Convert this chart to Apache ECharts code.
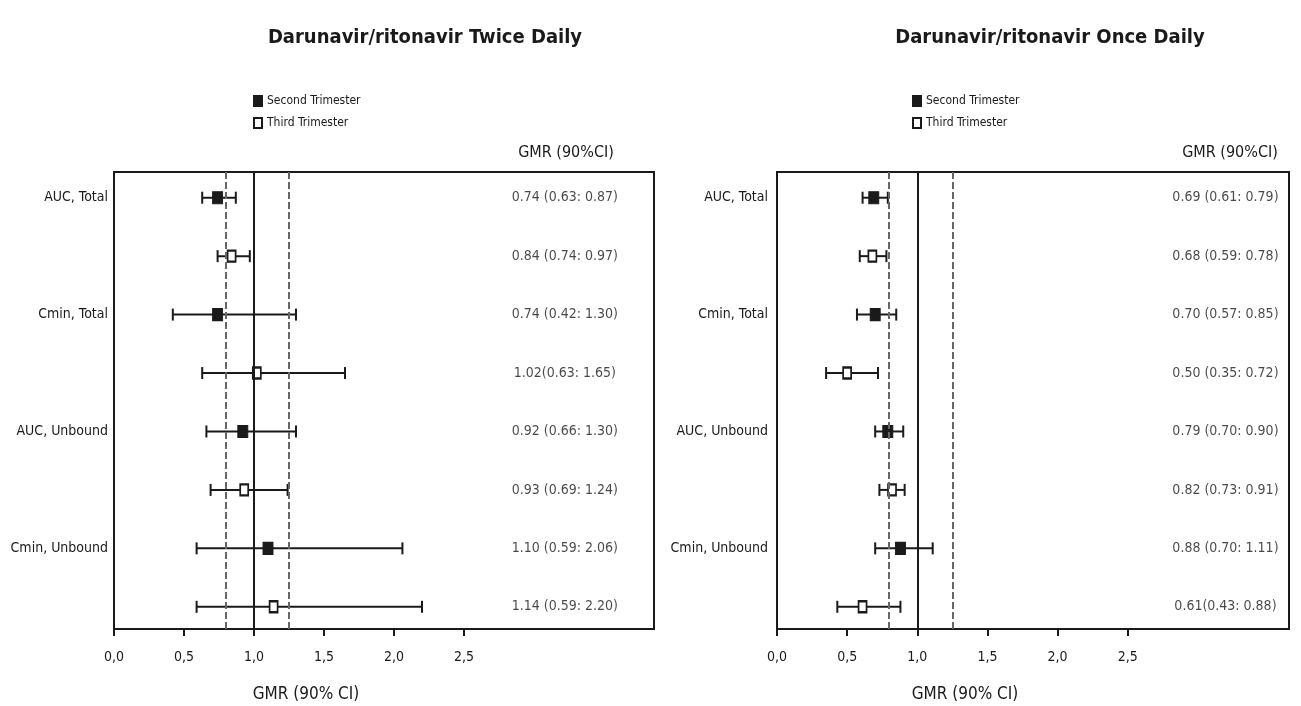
<!DOCTYPE html>
<html>
<head>
<meta charset="utf-8">
<script src="https://cdn.jsdelivr.net/npm/echarts@6/dist/echarts.min.js"></script>
<style>html,body{margin:0;padding:0;background:#fff}#c{width:1301px;height:706px}</style>
</head>
<body>
<div id="c"></div>
<script>
// ---- data ----
const rowLabels = ['AUC, Total', 'Cmin, Total', 'AUC, Unbound', 'Cmin, Unbound'];
const labelRows = [0, 2, 4, 6];
const secondRows = [0, 2, 4, 6];
const thirdRows = [1, 3, 5, 7];

const twiceSecondGMR = [0.74, 0.74, 0.92, 1.10];
const twiceSecondLow = [0.63, 0.42, 0.66, 0.59];
const twiceSecondHigh = [0.87, 1.30, 1.30, 2.06];
const twiceThirdGMR = [0.84, 1.02, 0.93, 1.14];
const twiceThirdLow = [0.74, 0.63, 0.69, 0.59];
const twiceThirdHigh = [0.97, 1.65, 1.24, 2.20];

const onceSecondGMR = [0.69, 0.70, 0.79, 0.88];
const onceSecondLow = [0.61, 0.57, 0.70, 0.70];
const onceSecondHigh = [0.79, 0.85, 0.90, 1.11];
const onceThirdGMR = [0.68, 0.50, 0.82, 0.61];
const onceThirdLow = [0.59, 0.35, 0.73, 0.43];
const onceThirdHigh = [0.78, 0.72, 0.91, 0.88];

const twiceText = ['0.74 (0.63: 0.87)', '0.84 (0.74: 0.97)', '0.74 (0.42: 1.30)', '1.02(0.63: 1.65)',
  '0.92 (0.66: 1.30)', '0.93 (0.69: 1.24)', '1.10 (0.59: 2.06)', '1.14 (0.59: 2.20)'];
const onceText = ['0.69 (0.61: 0.79)', '0.68 (0.59: 0.78)', '0.70 (0.57: 0.85)', '0.50 (0.35: 0.72)',
  '0.79 (0.70: 0.90)', '0.82 (0.73: 0.91)', '0.88 (0.70: 1.11)', '0.61(0.43: 0.88)'];

const xTickValues = [0, 0.5, 1.0, 1.5, 2.0, 2.5];
const xTickLabels = ['0,0', '0,5', '1,0', '1,5', '2,0', '2,5'];
const refLines = [0.8, 1.0, 1.25];

const panelTitles = ['Darunavir/ritonavir Twice Daily', 'Darunavir/ritonavir Once Daily'];
const legendNames = ['Second Trimester', 'Third Trimester'];
const colHeader = 'GMR (90%CI)';
const axisTitle = 'GMR (90% CI)';

// ---- styling ----
const FF = "'Liberation Sans Narrow','DejaVu Sans Condensed','Roboto Condensed',sans-serif";
const INK = '#1a1a1a';

const chart = echarts.init(document.getElementById('c'));

function errData(rows, g, lo, hi) {
  return rows.map((r, i) => [r, g[i], lo[i], hi[i]]);
}
function ptData(rows, g) {
  return rows.map((r, i) => [g[i], r]);
}
function renderErr(params, api) {
  const r = api.value(0);
  const lo = api.coord([api.value(2), r]);
  const hi = api.coord([api.value(3), r]);
  const cap = 6;
  const st = { stroke: INK, lineWidth: 2 };
  return {
    type: 'group',
    children: [
      { type: 'line', shape: { x1: lo[0], y1: lo[1], x2: hi[0], y2: hi[1] }, style: st },
      { type: 'line', shape: { x1: lo[0], y1: lo[1] - cap, x2: lo[0], y2: lo[1] + cap }, style: st },
      { type: 'line', shape: { x1: hi[0], y1: hi[1] - cap, x2: hi[0], y2: hi[1] + cap }, style: st }
    ]
  };
}

const grids = [
  { left: 114, right: 647, top: 172, bottom: 77, show: true, borderColor: INK, borderWidth: 2 },
  { left: 777, right: 12, top: 172, bottom: 77, show: true, borderColor: INK, borderWidth: 2 }
];
const xMax = [3.857, 3.65];
const textX = [3.22, 3.197];

const xAxes = [0, 1].map(i => ({
  gridIndex: i, type: 'value', min: 0, max: xMax[i],
  splitLine: { show: false },
  axisLine: { show: true, onZero: false, lineStyle: { color: INK, width: 2 } },
  axisTick: { show: true, inside: false, length: 7, customValues: xTickValues, lineStyle: { color: INK, width: 2 } },
  axisLabel: {
    customValues: xTickValues, margin: 21, color: INK, fontFamily: FF, fontSize: 14,
    formatter: v => { const k = xTickValues.findIndex(t => Math.abs(t - v) < 1e-6); return k >= 0 ? xTickLabels[k] : ''; }
  }
}));
const yAxes = [0, 1].map(i => ({
  gridIndex: i, type: 'value', min: -0.44, max: 7.38, inverse: true,
  splitLine: { show: false }, axisLine: { show: false }, axisTick: { show: false },
  axisLabel: {
    customValues: labelRows, margin: i === 0 ? 6 : 9, color: INK, fontFamily: FF, fontSize: 14,
    formatter: v => { const k = labelRows.indexOf(Math.round(v)); return k >= 0 ? rowLabels[k] : ''; }
  }
}));

const panels = [
  { sg: twiceSecondGMR, sl: twiceSecondLow, sh: twiceSecondHigh, tg: twiceThirdGMR, tl: twiceThirdLow, th: twiceThirdHigh, txt: twiceText },
  { sg: onceSecondGMR, sl: onceSecondLow, sh: onceSecondHigh, tg: onceThirdGMR, tl: onceThirdLow, th: onceThirdHigh, txt: onceText }
];

const series = [];
panels.forEach((p, i) => {
  series.push({
    type: 'scatter', xAxisIndex: i, yAxisIndex: i, symbolSize: 0, z: 1, silent: true,
    data: p.txt.map((t, r) => [textX[i], r, t]),
    label: { show: true, position: 'inside', formatter: d => d.value[2], color: INK, fontFamily: FF, fontSize: 14 },
    markLine: {
      silent: true, symbol: 'none', label: { show: false },
      data: refLines.map(v => ({
        xAxis: v,
        lineStyle: v === 1 ? { color: INK, width: 2, type: 'solid' } : { color: '#666', width: 2, type: [7, 3] }
      }))
    }
  });
  series.push({
    type: 'custom', xAxisIndex: i, yAxisIndex: i, z: 3, silent: true,
    renderItem: renderErr, encode: { x: [1, 2, 3], y: 0 },
    data: errData(secondRows, p.sg, p.sl, p.sh).concat(errData(thirdRows, p.tg, p.tl, p.th))
  });
  series.push({
    name: legendNames[0], type: 'scatter', xAxisIndex: i, yAxisIndex: i, z: 4,
    symbol: 'rect', symbolSize: [10, 12],
    itemStyle: { color: INK, borderColor: INK, borderWidth: 1, opacity: 1 },
    data: ptData(secondRows, p.sg)
  });
  series.push({
    name: legendNames[1], type: 'scatter', xAxisIndex: i, yAxisIndex: i, z: 4,
    symbol: 'rect', symbolSize: [8, 11],
    itemStyle: { color: '#fff', borderColor: INK, borderWidth: 2, opacity: 1 },
    data: ptData(thirdRows, p.tg)
  });
});

const option = {
  animation: false,
  backgroundColor: '#fff',
  title: [
    { text: panelTitles[0], left: 420, top: 23, textAlign: 'center', textStyle: { fontFamily: FF, fontSize: 20, fontWeight: 'bold', color: INK } },
    { text: panelTitles[1], left: 1045, top: 23, textAlign: 'center', textStyle: { fontFamily: FF, fontSize: 20, fontWeight: 'bold', color: INK } },
    { text: colHeader, left: 561, top: 140, textAlign: 'center', textStyle: { fontFamily: FF, fontSize: 16, fontWeight: 'normal', color: INK } },
    { text: colHeader, left: 1225, top: 140, textAlign: 'center', textStyle: { fontFamily: FF, fontSize: 16, fontWeight: 'normal', color: INK } },
    { text: axisTitle, left: 301, top: 681, textAlign: 'center', textStyle: { fontFamily: FF, fontSize: 17, fontWeight: 'normal', color: INK } },
    { text: axisTitle, left: 960, top: 681, textAlign: 'center', textStyle: { fontFamily: FF, fontSize: 17, fontWeight: 'normal', color: INK } }
  ],
  legend: [
    { data: legendNames, orient: 'vertical', left: 248, top: 90, itemWidth: 8, itemHeight: 10, itemGap: 10,
      textStyle: { fontFamily: FF, fontSize: 12, color: INK }, selectedMode: false },
    { data: legendNames, orient: 'vertical', left: 907, top: 90, itemWidth: 8, itemHeight: 10, itemGap: 10,
      textStyle: { fontFamily: FF, fontSize: 12, color: INK }, selectedMode: false }
  ],
  grid: grids,
  xAxis: xAxes,
  yAxis: yAxes,
  series: series
};
chart.setOption(option);
</script>
</body>
</html>
